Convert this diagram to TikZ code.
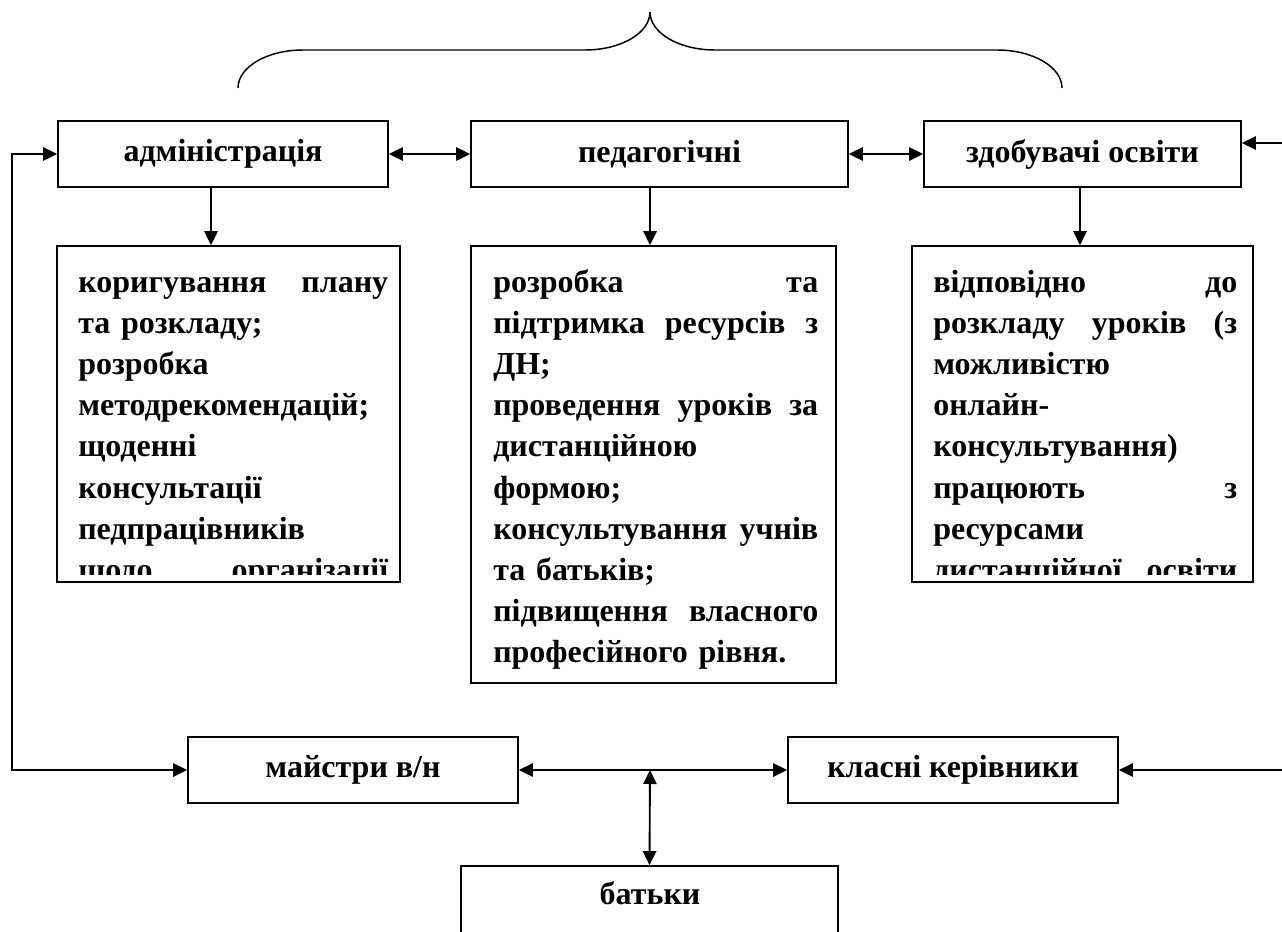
\documentclass[tikz,border=0pt]{standalone}
\usepackage{fontspec}
\setmainfont{Liberation Serif}
\usetikzlibrary{arrows.meta,fit}
\newcommand\jl[2]{\makebox[#1][s]{#2}}
\tikzset{
  box/.style={draw, line width=1.3pt, inner sep=0pt, font=\bfseries\fontsize{24}{30.9}\selectfont},
  labbox/.style={box, minimum width=#1, minimum height=49.5pt},
  txt/.style={inner sep=0pt, align=left, font=\bfseries\fontsize{24}{30.9}\selectfont},
  arr/.style={line width=1.4pt, -{Triangle[length=10.5pt,width=10pt]}},
  dbl/.style={line width=1.4pt, {Triangle[length=10.5pt,width=10pt]}-{Triangle[length=10.5pt,width=10pt]}},
  bracestyle/.style={line width=1.1pt}
}
\begin{document}
\begin{tikzpicture}[x=0.75pt,y=-0.75pt]
\useasboundingbox (0,0) rectangle (1282,932);
\clip (0,0) rectangle (1282,932);
% brace
\draw[bracestyle] (238,88) .. controls (238,67) and (267,50) .. (303,50) -- (585,50)
  .. controls (621,50) and (650,33) .. (650,12)
  .. controls (650,33) and (679,50) .. (715,50) -- (997,50)
  .. controls (1033,50) and (1062,67) .. (1062,88);
% top boxes
\node[labbox=247.5pt] (adm) at (223,154) {адміністрація};
\node[labbox=282.75pt] (ped) at (659.5,154) {педагогічні};
\node[labbox=237.75pt] (zdob) at (1082.5,154) {здобувачі освіти};
% text boxes
\node[box, fit={(57,246) (400,582)}] (b1) {};
\node[box, fit={(471,246) (836,683)}] (b2) {};
\node[box, fit={(912,246) (1253,582)}] (b3) {};
\begin{scope}
\clip (b1.north west) rectangle ([yshift=6pt]b1.south east);
\node[txt, text width=232.5pt, anchor=base west] (t1) at (78,292) {%
\jl{232.5pt}{коригування\hfill плану}\\
та розкладу;\\
розробка\\
методрекомендацій;\\
щоденні\\
консультації\\
педпрацівників\\
\jl{232.5pt}{щодо\hfill організації}};
\end{scope}
\node[txt, text width=243.75pt, anchor=base west] (t2) at (493,292) {%
\jl{243.75pt}{розробка\hfill та}\\
\jl{243.75pt}{підтримка\hfill ресурсів\hfill з}\\
ДН;\\
\jl{243.75pt}{проведення\hfill уроків\hfill за}\\
дистанційною\\
формою;\\
\jl{243.75pt}{консультування\hfill учнів}\\
та батьків;\\
\jl{243.75pt}{підвищення\hfill власного}\\
професійного рівня.};
\begin{scope}
\clip (b3.north west) rectangle ([yshift=6pt]b3.south east);
\node[txt, text width=228pt, anchor=base west] (t3) at (933,292) {%
\jl{228pt}{відповідно\hfill до}\\
\jl{228pt}{розкладу\hfill уроків\hfill (з}\\
можливістю\\
онлайн-\\
консультування)\\
\jl{228pt}{працюють\hfill з}\\
ресурсами\\
\jl{228pt}{дистанційної\hfill освіти}};
\end{scope}
% bottom boxes
\node[labbox=247.5pt] (majs) at (353,770) {майстри в/н};
\node[labbox=247.5pt] (klas) at (953,770) {класні керівники};
\node[box, fit={(461,866) (838,990)}] (bat) {};
\node[txt, anchor=center] (batt) at (650,893) {батьки};
% helper coordinates
\coordinate (xa) at (211,0);
\coordinate (xp) at (650,0);
\coordinate (xz) at (1080,0);
\coordinate (L) at (12,0);
\coordinate (R1) at (1282,143);
\coordinate (R2) at (1282,770);
\coordinate (M) at (650,770);
% connectors
\draw[dbl] (adm.east) -- (ped.west);
\draw[dbl] (ped.east) -- (zdob.west);
\draw[arr] (R1) -- (R1 -| zdob.east);
\draw[arr] (adm.south -| xa) -- (b1.north -| xa);
\draw[arr] (ped.south -| xp) -- (b2.north -| xp);
\draw[arr] (zdob.south -| xz) -- (b3.north -| xz);
\draw[dbl] (adm.west) -- (adm.west -| L) -- (majs.west -| L) -- (majs.west);
\draw[dbl] (majs.east) -- (klas.west);
\draw[arr] (R2) -- (klas.east);
\draw[dbl] (M) -- (bat.north);
\end{tikzpicture}
\end{document}
